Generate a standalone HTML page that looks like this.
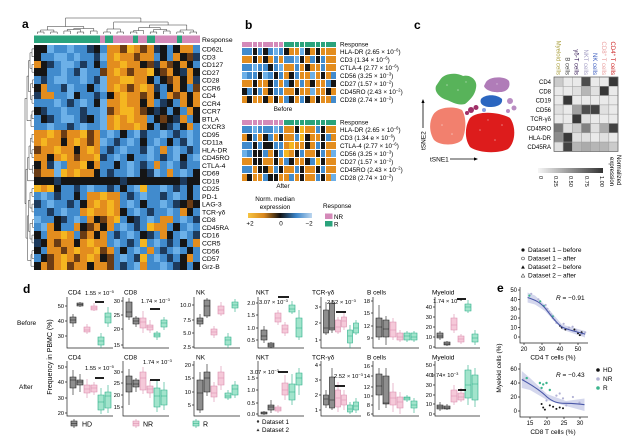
<!DOCTYPE html>
<html><head><meta charset="utf-8">
<style>
html,body{margin:0;padding:0;background:#fff;}
body{width:640px;height:445px;position:relative;overflow:hidden;font-family:"Liberation Sans",Arial,sans-serif;}
svg{position:absolute;left:0;top:0;}
.gr{position:absolute;display:grid;}
#ha{left:34px;top:45px;width:166px;height:225px;grid-template-columns:repeat(25,1fr);grid-template-rows:repeat(29,1fr);}
.hb{left:242px;width:94px;height:61px;grid-template-columns:repeat(18,1fr);grid-template-rows:5px repeat(7,1fr);gap:0.6px;background:#fff;}
#hb1{top:42px;} #hb2{top:120px;}
y{background:#f5b620} o{background:#e38d1e} d{background:#6b3c14} k{background:#151515} n{background:#1d3a5c} c{background:#418bcd} l{background:#6cb0e8} m{background:#d48ab9} e{background:#2aa37c}
</style></head><body>
<svg width="640" height="445" viewBox="0 0 640 445" font-family="Liberation Sans, Arial, sans-serif" font-size="6.5">
<defs>
<linearGradient id="gb" x1="0" x2="1" y1="0" y2="0"><stop offset="0" stop-color="#f6c441"/><stop offset=".25" stop-color="#d9861c"/><stop offset=".5" stop-color="#111"/><stop offset=".75" stop-color="#3a84c8"/><stop offset="1" stop-color="#bcd6ef"/></linearGradient>
<linearGradient id="gc" x1="0" x2="1" y1="0" y2="0"><stop offset="0" stop-color="#f6f6f6"/><stop offset="1" stop-color="#333"/></linearGradient>
</defs>
<style>
.dd{fill:none;stroke:#333;stroke-width:.5}
.h{fill:#8e8e8e;stroke:#1a1a1a;stroke-width:.6}
.r{fill:#f5c9d9;stroke:#d98aab;stroke-width:.6}
.g{fill:#a2e4cc;stroke:#27ad86;stroke-width:.6}
.ax{fill:none;stroke:#222;stroke-width:.7}
.pb{stroke:#000;stroke-width:1.8}
.lb{font-weight:bold;font-size:12px}
</style>

<text class="lb" x="22" y="28">a</text>
<text class="lb" x="245" y="29">b</text>
<text class="lb" x="414" y="29">c</text>
<text class="lb" x="23" y="293">d</text>
<text class="lb" x="497" y="292">e</text>

<path class="dd" d="M37.3 34V32H44V34M50.6 34V32H57.2V34M63.9 34V31H70.5V34M77.2 34V32H83.8V34M90.4 34V31H97.1V34M40.6 32V30H53.9V32M67.2 31V29.5H80.5V32M73.8 29.5V28.5H93.8V31M47.3 30V26.5H83.8V28.5M103.7 34V32H110.4V34M117 34V32H123.6V34M107 32V29H120.3V32M130.3 34V32H136.9V34M133.6 32V30.5H143.6V34M150.2 34V32H156.8V34M163.5 34V31H170.1V34M153.5 32V29.5H166.8V31M176.8 34V32H183.4V34M190 34V32H196.7V34M180.1 32V30H193.4V32M138.6 30.5V27.5H160.2V29.5M149.4 27.5V25H186.8V30M113.7 29V22H168.1V25M65.5 26.5V18H140.9V22"/>
<path class="dd" d="M34 48.9H32V56.7H34M34 64.4H32V72.2H34M34 79.9H32.5V87.7H34M34 95.5H32V103.2H34M34 111H32V118.7H34M32 114.9H31V126.5H34M32 52.8H30V68.3H32M32.5 83.8H30.5V99.4H32M30 60.6H28.5V91.6H30.5M28.5 76.1H27V120.7H31M34 134.3H32V142H34M34 149.8H32V157.5H34M34 165.3H32.5V173.1H34M32 138.2H30.5V153.7H32M30.5 146H29V169.2H32.5M29 157.6H27.5V180.8H34M34 188.6H32V196.3H34M34 204.1H32V211.9H34M34 219.6H32.5V227.4H34M34 235.1H32V242.9H34M34 250.7H32V258.4H34M32 254.6H31V266.2H34M32 192.5H30V208H32M32.5 223.5H30V239H32M30 200.3H28.5V231.3H30M31 260.4H27.5V215.8H28.5M27.5 169.2H26V238.1H27.5M27 98.4H25V203.7H26"/>
<rect x="34" y="35.5" width="66" height="7.5" fill="#2aa37c"/>
<rect x="100" y="35.5" width="5" height="7.5" fill="#d48ab9"/>
<rect x="105" y="35.5" width="8" height="7.5" fill="#2aa37c"/>
<rect x="113" y="35.5" width="20" height="7.5" fill="#d48ab9"/>
<rect x="133" y="35.5" width="5" height="7.5" fill="#2aa37c"/>
<rect x="138" y="35.5" width="9" height="7.5" fill="#d48ab9"/>
<rect x="147" y="35.5" width="8" height="7.5" fill="#2aa37c"/>
<rect x="155" y="35.5" width="22" height="7.5" fill="#d48ab9"/>
<rect x="177" y="35.5" width="5" height="7.5" fill="#2aa37c"/>
<rect x="182" y="35.5" width="18" height="7.5" fill="#d48ab9"/>
<g font-size="6.8">
<text x="202" y="42">Response</text>
<text x="202" y="51.5">CD62L</text><text x="202" y="59.3">CD3</text><text x="202" y="67">CD127</text><text x="202" y="74.8">CD27</text><text x="202" y="82.5">CD28</text><text x="202" y="90.3">CCR6</text><text x="202" y="98.1">CD4</text><text x="202" y="105.8">CCR4</text><text x="202" y="113.6">CCR7</text><text x="202" y="121.3">BTLA</text><text x="202" y="129.1">CXCR3</text><text x="202" y="136.9">CD95</text><text x="202" y="144.6">CD11a</text><text x="202" y="152.4">HLA-DR</text><text x="202" y="160.1">CD45RO</text><text x="202" y="167.9">CTLA-4</text><text x="202" y="175.7">CD69</text><text x="202" y="183.4">CD19</text><text x="202" y="191.2">CD25</text><text x="202" y="198.9">PD-1</text><text x="202" y="206.7">LAG-3</text><text x="202" y="214.5">TCR-γδ</text><text x="202" y="222.2">CD8</text><text x="202" y="230">CD45RA</text><text x="202" y="237.7">CD16</text><text x="202" y="245.5">CCR5</text><text x="202" y="253.3">CD56</text><text x="202" y="261">CD57</text><text x="202" y="268.8">Grz-B</text>
</g>

<g font-size="6.3">
<text x="340" y="46.5">Response</text>
<text x="340" y="53.8">HLA-DR (2.65 × 10<tspan dy="-2.2" font-size="4.2">−6</tspan><tspan dy="2.2">)</tspan></text>
<text x="340" y="61.8">CD3 (1.34 × 10<tspan dy="-2.2" font-size="4.2">−6</tspan><tspan dy="2.2">)</tspan></text>
<text x="340" y="69.8">CTLA-4 (2.77 × 10<tspan dy="-2.2" font-size="4.2">−6</tspan><tspan dy="2.2">)</tspan></text>
<text x="340" y="77.8">CD56 (3.25 × 10<tspan dy="-2.2" font-size="4.2">−3</tspan><tspan dy="2.2">)</tspan></text>
<text x="340" y="85.8">CD27 (1.57 × 10<tspan dy="-2.2" font-size="4.2">−2</tspan><tspan dy="2.2">)</tspan></text>
<text x="340" y="93.8">CD45RO (2.43 × 10<tspan dy="-2.2" font-size="4.2">−2</tspan><tspan dy="2.2">)</tspan></text>
<text x="340" y="101.8">CD28 (2.74 × 10<tspan dy="-2.2" font-size="4.2">−2</tspan><tspan dy="2.2">)</tspan></text>
<text x="340" y="124.5">Response</text>
<text x="340" y="131.8">HLA-DR (2.65 × 10<tspan dy="-2.2" font-size="4.2">−6</tspan><tspan dy="2.2">)</tspan></text>
<text x="340" y="139.8">CD3 (1.34 e × 10<tspan dy="-2.2" font-size="4.2">−6</tspan><tspan dy="2.2">)</tspan></text>
<text x="340" y="147.8">CTLA-4 (2.77 × 10<tspan dy="-2.2" font-size="4.2">−6</tspan><tspan dy="2.2">)</tspan></text>
<text x="340" y="155.8">CD56 (3.25 × 10<tspan dy="-2.2" font-size="4.2">−3</tspan><tspan dy="2.2">)</tspan></text>
<text x="340" y="163.8">CD27 (1.57 × 10<tspan dy="-2.2" font-size="4.2">−2</tspan><tspan dy="2.2">)</tspan></text>
<text x="340" y="171.8">CD45RO (2.43 × 10<tspan dy="-2.2" font-size="4.2">−2</tspan><tspan dy="2.2">)</tspan></text>
<text x="340" y="179.8">CD28 (2.74 × 10<tspan dy="-2.2" font-size="4.2">−2</tspan><tspan dy="2.2">)</tspan></text>
<text x="283" y="111" text-anchor="middle">Before</text>
<text x="283" y="188" text-anchor="middle">After</text>
<text x="275" y="201" text-anchor="middle">Norm. median</text>
<text x="275" y="209" text-anchor="middle">expression</text>
<text x="250" y="225.5" text-anchor="middle">+2</text>
<text x="281" y="225.5" text-anchor="middle">0</text>
<text x="309" y="225.5" text-anchor="middle">−2</text>
<text x="323" y="208">Response</text>
<text x="334" y="219">NR</text>
<text x="334" y="226.5">R</text>
</g>
<rect x="248" y="213" width="64" height="5" fill="url(#gb)"/>
<rect x="325" y="213.5" width="7.5" height="5.5" fill="#d48ab9"/>
<rect x="325" y="221" width="7.5" height="5.5" fill="#2aa37c"/>

<path d="M440 80C445 72 458 73 463 76C470 74 478 80 476 88C475 95 470 100 465 104C458 106 452 102 447 100C440 98 434 92 436 86Z" fill="#58b35a"/>
<path d="M486 82C490 76 505 76 509 81C511 87 507 92 500 92C493 93 485 90 484 86Z" fill="#b07cb8"/>
<path d="M481 99C485 94 497 94 502 99C503 104 498 107 490 107C484 107 479 104 481 99Z" fill="#2b66c0"/>
<circle cx="510" cy="101" r="3" fill="#b98cc2"/><circle cx="514" cy="108" r="2.5" fill="#b98cc2"/><circle cx="508" cy="111" r="2" fill="#b98cc2"/>
<path d="M433 115C438 106 455 106 462 110C467 118 466 132 462 140C456 146 440 146 434 140C429 132 429 122 433 115Z" fill="#f2806e"/>
<path d="M470 118C478 110 500 112 510 118C516 126 516 142 508 149C498 154 478 153 470 147C464 138 465 126 470 118Z" fill="#dd1c1c"/>
<circle cx="471" cy="110" r="3" fill="#a03068"/><circle cx="476" cy="107.5" r="2.5" fill="#a03068"/><circle cx="467" cy="113" r="2" fill="#a03068"/><circle cx="484" cy="110" r="2" fill="#8aa0e0"/>
<g fill="#fff" opacity=".45"><circle cx="447" cy="85" r=".8"/><circle cx="458" cy="90" r=".8"/><circle cx="466" cy="82" r=".7"/><circle cx="442" cy="125" r=".8"/><circle cx="452" cy="134" r=".8"/><circle cx="480" cy="130" r=".8"/><circle cx="495" cy="140" r=".8"/><circle cx="502" cy="125" r=".8"/><circle cx="488" cy="120" r=".7"/><circle cx="497" cy="84" r=".7"/></g>
<path d="M423 128V102" stroke="#000" stroke-width=".8"/><path d="M423 99l-1.6 4h3.2z"/>
<path d="M450 159H475" stroke="#000" stroke-width=".8"/><path d="M478 159l-4-1.6v3.2z"/>
<text x="430" y="161.5" font-size="6.5">tSNE1</text>
<text transform="translate(425.5,150) rotate(-90)" font-size="6.5">tSNE2</text>

<g stroke="#a0a0a0" stroke-width=".5">
<rect x="554" y="77" width="9.14" height="9.3" fill="#cbcbcb"/><rect x="563.14" y="77" width="9.14" height="9.3" fill="#eaeaea"/><rect x="572.28" y="77" width="9.14" height="9.3" fill="#eaeaea"/><rect x="581.42" y="77" width="9.14" height="9.3" fill="#4d4d4d"/><rect x="590.56" y="77" width="9.14" height="9.3" fill="#eaeaea"/><rect x="599.7" y="77" width="9.14" height="9.3" fill="#eaeaea"/><rect x="608.84" y="77" width="9.14" height="9.3" fill="#383838"/>
<rect x="554" y="86.3" width="9.14" height="9.3" fill="#eaeaea"/><rect x="563.14" y="86.3" width="9.14" height="9.3" fill="#eaeaea"/><rect x="572.28" y="86.3" width="9.14" height="9.3" fill="#e0e0e0"/><rect x="581.42" y="86.3" width="9.14" height="9.3" fill="#b6b6b6"/><rect x="590.56" y="86.3" width="9.14" height="9.3" fill="#e0e0e0"/><rect x="599.7" y="86.3" width="9.14" height="9.3" fill="#383838"/><rect x="608.84" y="86.3" width="9.14" height="9.3" fill="#eaeaea"/>
<rect x="554" y="95.6" width="9.14" height="9.3" fill="#eaeaea"/><rect x="563.14" y="95.6" width="9.14" height="9.3" fill="#383838"/><rect x="572.28" y="95.6" width="9.14" height="9.3" fill="#eaeaea"/><rect x="581.42" y="95.6" width="9.14" height="9.3" fill="#eaeaea"/><rect x="590.56" y="95.6" width="9.14" height="9.3" fill="#eaeaea"/><rect x="599.7" y="95.6" width="9.14" height="9.3" fill="#eaeaea"/><rect x="608.84" y="95.6" width="9.14" height="9.3" fill="#eaeaea"/>
<rect x="554" y="104.9" width="9.14" height="9.3" fill="#e0e0e0"/><rect x="563.14" y="104.9" width="9.14" height="9.3" fill="#eaeaea"/><rect x="572.28" y="104.9" width="9.14" height="9.3" fill="#a1a1a1"/><rect x="581.42" y="104.9" width="9.14" height="9.3" fill="#4d4d4d"/><rect x="590.56" y="104.9" width="9.14" height="9.3" fill="#424242"/><rect x="599.7" y="104.9" width="9.14" height="9.3" fill="#e0e0e0"/><rect x="608.84" y="104.9" width="9.14" height="9.3" fill="#eaeaea"/>
<rect x="554" y="114.2" width="9.14" height="9.3" fill="#eaeaea"/><rect x="563.14" y="114.2" width="9.14" height="9.3" fill="#eaeaea"/><rect x="572.28" y="114.2" width="9.14" height="9.3" fill="#383838"/><rect x="581.42" y="114.2" width="9.14" height="9.3" fill="#e0e0e0"/><rect x="590.56" y="114.2" width="9.14" height="9.3" fill="#eaeaea"/><rect x="599.7" y="114.2" width="9.14" height="9.3" fill="#eaeaea"/><rect x="608.84" y="114.2" width="9.14" height="9.3" fill="#eaeaea"/>
<rect x="554" y="123.5" width="9.14" height="9.3" fill="#777"/><rect x="563.14" y="123.5" width="9.14" height="9.3" fill="#e0e0e0"/><rect x="572.28" y="123.5" width="9.14" height="9.3" fill="#cbcbcb"/><rect x="581.42" y="123.5" width="9.14" height="9.3" fill="#818181"/><rect x="590.56" y="123.5" width="9.14" height="9.3" fill="#e0e0e0"/><rect x="599.7" y="123.5" width="9.14" height="9.3" fill="#ababab"/><rect x="608.84" y="123.5" width="9.14" height="9.3" fill="#424242"/>
<rect x="554" y="132.8" width="9.14" height="9.3" fill="#8c8c8c"/><rect x="563.14" y="132.8" width="9.14" height="9.3" fill="#383838"/><rect x="572.28" y="132.8" width="9.14" height="9.3" fill="#e0e0e0"/><rect x="581.42" y="132.8" width="9.14" height="9.3" fill="#e0e0e0"/><rect x="590.56" y="132.8" width="9.14" height="9.3" fill="#eaeaea"/><rect x="599.7" y="132.8" width="9.14" height="9.3" fill="#e0e0e0"/><rect x="608.84" y="132.8" width="9.14" height="9.3" fill="#eaeaea"/>
<rect x="554" y="142.1" width="9.14" height="9.3" fill="#e0e0e0"/><rect x="563.14" y="142.1" width="9.14" height="9.3" fill="#424242"/><rect x="572.28" y="142.1" width="9.14" height="9.3" fill="#b6b6b6"/><rect x="581.42" y="142.1" width="9.14" height="9.3" fill="#ababab"/><rect x="590.56" y="142.1" width="9.14" height="9.3" fill="#b6b6b6"/><rect x="599.7" y="142.1" width="9.14" height="9.3" fill="#b6b6b6"/><rect x="608.84" y="142.1" width="9.14" height="9.3" fill="#cbcbcb"/>
</g>
<rect x="554" y="77" width="64" height="74.4" fill="none" stroke="#555" stroke-width=".6"/>
<g font-size="6" text-anchor="end">
<text x="551" y="84">CD4</text><text x="551" y="93.3">CD8</text><text x="551" y="102.6">CD19</text><text x="551" y="111.9">CD56</text><text x="551" y="121.2">TCR-γδ</text><text x="551" y="130.5">CD45RO</text><text x="551" y="139.8">HLA-DR</text><text x="551" y="149.1">CD45RA</text>
</g>
<g font-size="6" text-anchor="end">
<text transform="translate(556.4,75) rotate(90)" fill="#aea446">Myeloid cells</text>
<text transform="translate(565.5,75) rotate(90)" fill="#444">B cells</text>
<text transform="translate(574.6,75) rotate(90)" fill="#3a1f5a">γδ-T cells</text>
<text transform="translate(583.8,75) rotate(90)" fill="#a6a0c6">NKT cells</text>
<text transform="translate(592.9,75) rotate(90)" fill="#3f5fc0">NK cells</text>
<text transform="translate(602.1,75) rotate(90)" fill="#e9a0a0">CD8<tspan font-size="4.5" dy="-2">+</tspan><tspan dy="2"> T cells</tspan></text>
<text transform="translate(611.2,75) rotate(90)" fill="#cc1f1f">CD4<tspan font-size="4.5" dy="-2">+</tspan><tspan dy="2"> T cells</tspan></text>
</g>
<rect x="538" y="168" width="65" height="5" fill="url(#gc)"/>
<g font-size="5.6">
<text transform="translate(539,176) rotate(90)">0</text>
<text transform="translate(554,176) rotate(90)">0.25</text>
<text transform="translate(569,176) rotate(90)">0.50</text>
<text transform="translate(585,176) rotate(90)">0.75</text>
<text transform="translate(600,176) rotate(90)">1.00</text>
<text transform="translate(617,155) rotate(90)" font-size="6">Normalized</text>
<text transform="translate(610,157) rotate(90)" font-size="6">expression</text>
</g>

<g font-size="6.5">
<text x="17" y="325">Before</text>
<text x="19" y="389">After</text>
<text transform="translate(52,357) rotate(-90)" text-anchor="middle" font-size="7">Frequency in PBMC (%)</text>
<text x="68" y="294.5">CD4</text><text x="124" y="294.5">CD8</text><text x="196" y="294.5">NK</text><text x="256" y="294.5">NKT</text><text x="312" y="294.5">TCR-γδ</text><text x="367" y="294.5">B cells</text><text x="432" y="294.5">Myeloid</text>
<text x="68" y="359.5">CD4</text><text x="124" y="359.5">CD8</text><text x="196" y="359.5">NK</text><text x="256" y="359.5">NKT</text><text x="312" y="359.5">TCR-γδ</text><text x="367" y="359.5">B cells</text><text x="432" y="359.5">Myeloid</text>
</g>
<path class="ax" d="M67 297V348H113M123 297V348H169M194 297V348H240M258 297V348H304M321 297V348H361M373 297V348H419M435 297V348H480M67 361V416H113M123 361V416H169M194 361V416H240M258 361V416H304M321 361V416H361M373 361V416H419M435 361V416H480"/>
<path class="ax" d="M65 306h2M65 321h2M65 336h2M121 301h2M121 315h2M121 329h2M121 345h2M192 305h2M192 320h2M192 333h2M192 347h2M256 303h2M256 315h2M256 328h2M256 340h2M319 307h2M319 323h2M319 340h2M371 301h2M371 313h2M371 326h2M371 338h2M433 307h2M433 317h2M433 327h2M433 337h2M433 347h2M65 367h2M65 382h2M65 398h2M65 413h2M121 372h2M121 383h2M121 395h2M121 407h2M192 365h2M192 378h2M192 392h2M192 405h2M256 378h2M256 390h2M256 403h2M256 414h2M319 365h2M319 380h2M319 395h2M319 410h2M371 366h2M371 376h2M371 387h2M371 396h2M371 405h2M371 414h2M433 365h2M433 375h2M433 385h2M433 395h2M433 404h2M433 414h2"/>
<g font-size="5.6" text-anchor="end">
<text x="64" y="308">50</text><text x="64" y="323">40</text><text x="64" y="338">30</text>
<text x="120" y="303">30</text><text x="120" y="317">25</text><text x="120" y="331">20</text><text x="120" y="347">15</text>
<text x="191" y="307">10.0</text><text x="191" y="322">7.5</text><text x="191" y="335">5.0</text><text x="191" y="349">2.5</text>
<text x="255" y="305">2.0</text><text x="255" y="317">1.5</text><text x="255" y="330">1.0</text><text x="255" y="342">0.5</text>
<text x="318" y="309">3</text><text x="318" y="325">2</text><text x="318" y="342">1</text>
<text x="370" y="303">18</text><text x="370" y="315">15</text><text x="370" y="328">12</text><text x="370" y="340">9</text>
<text x="432" y="309">40</text><text x="432" y="319">30</text><text x="432" y="329">20</text><text x="432" y="339">10</text><text x="432" y="349">0</text>
<text x="64" y="369">50</text><text x="64" y="384">40</text><text x="64" y="400">30</text><text x="64" y="415">20</text>
<text x="120" y="374">30</text><text x="120" y="385">25</text><text x="120" y="397">20</text><text x="120" y="409">15</text>
<text x="191" y="367">20</text><text x="191" y="380">15</text><text x="191" y="394">10</text><text x="191" y="407">5</text>
<text x="255" y="380">1.5</text><text x="255" y="392">1.0</text><text x="255" y="405">0.5</text><text x="255" y="416">0.0</text>
<text x="318" y="367">4</text><text x="318" y="382">3</text><text x="318" y="397">2</text><text x="318" y="412">1</text>
<text x="370" y="368">16</text><text x="370" y="378">14</text><text x="370" y="389">12</text><text x="370" y="398">10</text><text x="370" y="407">8</text><text x="370" y="416">6</text>
<text x="432" y="367">50</text><text x="432" y="377">40</text><text x="432" y="387">30</text><text x="432" y="397">20</text><text x="432" y="406">10</text><text x="432" y="416">0</text>
</g>
<path class="h" d="M73 314V317M70 317h6v6h-6zM73 323V327M70 320h6M80 302V303M77 303h6v3h-6zM80 306V307M77 304.5h6"/>
<path class="r" d="M87 324V327M84 327h6v5h-6zM87 332V334M84 330h6M94 303V306M91 306h6v4h-6zM94 310V311M91 308h6"/>
<path class="g" d="M101 333V337M98 337h6v8h-6zM101 345V348M98 341h6M108 307V313M105 313h6v10h-6zM108 323V327M105 317h6"/>
<path class="h" d="M129 298V302M126 302h6v15h-6zM129 317V320M126 312h6M136 316V318M133 318h6v6h-6zM136 324V327M133 321h6"/>
<path class="r" d="M143 311V318M140 318h6v10h-6zM143 328V333M140 322h6M150 320V325M147 325h6v5h-6zM150 330V333M147 327h6"/>
<path class="g" d="M157 331V333M154 333h6v4h-6zM157 337V340M154 335h6M164 317V320M161 320h6v7h-6zM164 327V330M161 323h6"/>
<path class="h" d="M200 314V318M197 318h6v6h-6zM200 324V327M197 321h6M207 298V300M204 300h6v16h-6zM207 316V318M204 306h6"/>
<path class="r" d="M214 326V329M211 329h6v6h-6zM214 335V338M211 332h6M221 302V306M218 306h6v8h-6zM221 314V316M218 310h6"/>
<path class="g" d="M228 333V337M225 337h6v8h-6zM228 345V348M225 340h6M235 299V302M232 302h6v6h-6zM235 308V312M232 305h6"/>
<path class="h" d="M264 326V330M261 330h6v10h-6zM264 340V343M261 336h6M271 342V343M268 343h6v4h-6zM271 347V348M268 345h6"/>
<path class="r" d="M278 310V313M275 313h6v9h-6zM278 322V325M275 318h6M285 322V325M282 325h6v8h-6zM285 333V336M282 329h6"/>
<path class="g" d="M292 301V305M289 305h6v7h-6zM292 312V314M289 309h6M299 310V318M296 318h6v19h-6zM299 337V340M296 328h6"/>
<path class="h" d="M326 302V310M323.5 310h5v23h-5zM326 333V335M323.5 328h5M332 300V303M329.5 303h5v27h-5zM332 330V333M329.5 328h5"/>
<path class="r" d="M338 317V320M335.5 320h5v12h-5zM338 332V334M335.5 327h5M344 312V317M341.5 317h5v10h-5zM344 327V330M341.5 321h5"/>
<path class="g" d="M350 325V330M347.5 330h5v13h-5zM350 343V348M347.5 336h5M356 320V323M353.5 323h5v10h-5zM356 333V335M353.5 328h5"/>
<path class="h" d="M379 305V318M376 318h6v19h-6zM379 337V340M376 327h6M386 316V320M383 320h6v17h-6zM386 337V345M383 329h6"/>
<path class="r" d="M393 318V322M390 322h6v15h-6zM393 337V340M390 330h6M400 330V333M397 333h6v7h-6zM400 340V342M397 337h6"/>
<path class="g" d="M407 331V333M404 333h6v7h-6zM407 340V342M404 336h6M414 331V333M411 333h6v7h-6zM414 340V342M411 337h6"/>
<path class="h" d="M440 331V333M437 333h6v5h-6zM440 338V340M437 336h6M447 341V342M444 342h6v3h-6zM447 345V346M444 344h6"/>
<path class="r" d="M454 314V318M451 318h6v12h-6zM454 330V333M451 325h6M461 334V336M458 336h6v6h-6zM461 342V344M458 339h6"/>
<path class="g" d="M468 300V304M465 304h6v7h-6zM468 311V313M465 307h6M475 330V334M472 334h6v8h-6zM475 342V345M472 338h6"/>
<path class="h" d="M73 370V377M70 377h6v11h-6zM73 388V395M70 380h6M80 374V380M77 380h6v5h-6zM80 385V392M77 382h6"/>
<path class="r" d="M87 379V385M84 385h6v8h-6zM87 393V398M84 389h6M94 382V385M91 385h6v7h-6zM94 392V395M91 388h6"/>
<path class="g" d="M101 388V395M98 395h6v15h-6zM101 410V414M98 402h6M108 385V392M105 392h6v16h-6zM108 408V413M105 396h6"/>
<path class="h" d="M129 369V376M126 376h6v16h-6zM129 392V405M126 384h6M136 378V380M133 380h6v7h-6zM136 387V392M133 384h6"/>
<path class="r" d="M143 367V372M140 372h6v18h-6zM143 390V394M140 378h6M150 380V386M147 386h6v7h-6zM150 393V398M147 389h6"/>
<path class="g" d="M157 380V388M154 388h6v19h-6zM157 407V412M154 396h6M164 382V390M161 390h6v15h-6zM164 405V410M161 396h6"/>
<path class="h" d="M200 372V380M197 380h6v30h-6zM200 410V413M197 393h6M207 364V372M204 372h6v20h-6zM207 392V396M204 378h6"/>
<path class="r" d="M214 382V386M211 386h6v11h-6zM214 397V402M211 393h6M221 366V372M218 372h6v13h-6zM221 385V390M218 378h6"/>
<path class="g" d="M228 390V393M225 393h6v5h-6zM228 398V400M225 396h6M235 381V385M232 385h6v10h-6zM235 395V398M232 389h6"/>
<path class="h" d="M264 411V412M261 412h6v2h-6zM264 414V415M261 413h6M271 400V405M268 405h6v5h-6zM271 410V413M268 407h6"/>
<path class="r" d="M278 405V407M275 407h6v4h-6zM278 411V413M275 409h6M285 375V383M282 383h6v12h-6zM285 395V400M282 390h6"/>
<path class="g" d="M292 374V384M289 384h6v16h-6zM292 400V405M289 392h6M299 368V373M296 373h6v12h-6zM299 385V395M296 378h6"/>
<path class="h" d="M326 390V395M323.5 395h5v10h-5zM326 405V408M323.5 399h5M332 368V377M329.5 377h5v31h-5zM332 408V410M329.5 400h5"/>
<path class="r" d="M338 382V390M335.5 390h5v17h-5zM338 407V412M335.5 398h5M344 390V395M341.5 395h5v10h-5zM344 405V410M341.5 400h5"/>
<path class="g" d="M350 402V405M347.5 405h5v7h-5zM350 412V414M347.5 409h5M356 398V402M353.5 402h5v8h-5zM356 410V413M353.5 406h5"/>
<path class="h" d="M379 368V374M376 374h6v21h-6zM379 395V410M376 386h6M386 368V376M383 376h6v28h-6zM386 404V408M383 403h6"/>
<path class="r" d="M393 383V392M390 392h6v13h-6zM393 405V412M390 398h6M400 392V397M397 397h6v11h-6zM400 408V414M397 402h6"/>
<path class="g" d="M407 395V397M404 397h6v3h-6zM407 400V402M404 398h6M414 398V401M411 401h6v7h-6zM414 408V413M411 405h6"/>
<path class="h" d="M440 402V405M437 405h6v4h-6zM440 409V411M437 407h6M447 404V406M444 406h6v3h-6zM447 409V410M444 408h6"/>
<path class="r" d="M454 385V390M451 390h6v12h-6zM454 402V405M451 396h6M461 388V393M458 393h6v7h-6zM461 400V402M458 397h6"/>
<path class="g" d="M468 365V370M465 370h6v28h-6zM468 398V405M465 385h6M475 368V375M472 375h6v25h-6zM475 400V407M472 384h6"/>
<g font-size="5.8">
<text x="85" y="295">1.55 × 10<tspan dy="-2.2" font-size="4">−5</tspan></text>
<text x="141" y="303">1.74 × 10<tspan dy="-2.2" font-size="4">−3</tspan></text>
<text x="259" y="304">3.07 × 10<tspan dy="-2.2" font-size="4">−3</tspan></text>
<text x="327" y="304">2.52 × 10<tspan dy="-2.2" font-size="4">−3</tspan></text>
<text x="433" y="303">1.74 × 10<tspan dy="-2.2" font-size="4">−3</tspan></text>
<text x="85" y="370">1.55 × 10<tspan dy="-2.2" font-size="4">−5</tspan></text>
<text x="143" y="364">1.74 × 10<tspan dy="-2.2" font-size="4">−3</tspan></text>
<text x="250" y="374">3.07 × 10<tspan dy="-2.2" font-size="4">−3</tspan></text>
<text x="334" y="378">2.52 × 10<tspan dy="-2.2" font-size="4">−3</tspan></text>
<text x="431" y="377">1.74× 10<tspan dy="-2.2" font-size="4">−3</tspan></text>
</g>
<path class="pb" d="M95 302H104M150 309H160M278 297H289M336 312H346M457 299H466M95 378H104M150 380H160M278 372H288M335 386H345M458 390H466"/>
<path class="h" d="M74 419V421M71 421h6v5h-6zM74 426V428M71 423.5h6"/>
<path class="r" d="M136 419V421M133 421h6v5h-6zM136 426V428M133 423.5h6"/>
<path class="g" d="M196 419V421M193 421h6v5h-6zM196 426V428M193 423.5h6"/>
<g font-size="7"><text x="82" y="426.5">HD</text><text x="143" y="426.5">NR</text><text x="203" y="426.5">R</text></g>
<circle cx="258" cy="421.5" r="1.2" fill="#333"/><path d="M258 428.5l1.5 2.6h-3z" fill="#333"/>
<g font-size="6.3"><text x="262" y="423.8">Dataset 1</text><text x="262" y="432">Dataset 2</text></g>

<circle cx="523" cy="250" r="1.6" fill="#111"/>
<circle cx="523" cy="258.5" r="1.5" fill="none" stroke="#111" stroke-width=".5"/>
<path d="M523 265.3l1.9 3.3h-3.8z" fill="#111"/>
<path d="M523 273.8l1.9 3.3h-3.8z" fill="none" stroke="#111" stroke-width=".5"/>
<g font-size="6.5">
<text x="528" y="252.2">Dataset 1 – before</text>
<text x="528" y="260.7">Dataset 1 – after</text>
<text x="528" y="269.2">Dataset 2 – before</text>
<text x="528" y="277.7">Dataset 2 – after</text>
</g>
<path d="M527.6 292.5L535 295.5L545 305L562 324.5L585 331L585 337.5L562 329.5L545 311L535 304.5L527.6 302.5Z" fill="#cdd0ea" opacity=".85"/>
<path d="M521.8 371L530 378L547 394L566 401L584.5 398.5L584.5 411L566 406L547 400L530 390L521.8 388Z" fill="#cdd0ea" opacity=".85"/>
<g fill="#b3b3d6">
<circle cx="531.2" cy="293.8" r="1.1"/><circle cx="538.4" cy="299.4" r="1.1"/><circle cx="547.4" cy="308.8" r="1.1"/><circle cx="549.2" cy="311.6" r="1.1"/><circle cx="552.8" cy="318.2" r="1.1"/><circle cx="551" cy="314.4" r="1.1"/><circle cx="556.4" cy="322.9" r="1.1"/><circle cx="563.6" cy="323.8" r="1.1"/><circle cx="569" cy="327.6" r="1.1"/><circle cx="572.6" cy="326.7" r="1.1"/><circle cx="576.2" cy="330.4" r="1.1"/><circle cx="581.6" cy="334.2" r="1.1"/><circle cx="585.2" cy="332.3" r="1.1"/><circle cx="554.6" cy="320" r="1.1"/><circle cx="545.6" cy="305" r="1.1"/>
<circle cx="556.4" cy="395.6" r="1.1"/><circle cx="563" cy="398.4" r="1.1"/><circle cx="572.9" cy="397" r="1.1"/><circle cx="546.5" cy="400.5" r="1.1"/><circle cx="566.3" cy="405.4" r="1.1"/><circle cx="559.7" cy="393.5" r="1.1"/><circle cx="579.5" cy="402.6" r="1.1"/><circle cx="523.4" cy="379.5" r="1.1"/>
</g>
<g fill="#3cb58e">
<circle cx="529.4" cy="295.6" r="1.1"/><circle cx="540.2" cy="301.3" r="1.1"/><circle cx="543.8" cy="306" r="1.1"/><circle cx="552.8" cy="316.3" r="1.1"/>
<circle cx="539.9" cy="383" r="1.2"/><circle cx="543.2" cy="384.4" r="1.2"/><circle cx="546.5" cy="383" r="1.2"/><circle cx="541.6" cy="387.9" r="1.2"/><circle cx="549.8" cy="390" r="1.2"/><circle cx="526.7" cy="378.1" r="1.2"/>
</g>
<g fill="#111">
<circle cx="560" cy="325.7" r="1"/><circle cx="561.8" cy="327.6" r="1"/><circle cx="565.4" cy="329.5" r="1"/><circle cx="578" cy="333.2" r="1"/><circle cx="579.8" cy="335.1" r="1"/><circle cx="581.6" cy="332.3" r="1"/><circle cx="574.4" cy="329.5" r="1"/>
<circle cx="541.6" cy="404" r="1"/><circle cx="543.2" cy="407.5" r="1"/><circle cx="544.9" cy="409.6" r="1"/><circle cx="549.8" cy="405.4" r="1"/><circle cx="556.4" cy="408.9" r="1"/><circle cx="559.7" cy="407.5" r="1"/><circle cx="563" cy="408.2" r="1"/><circle cx="553.1" cy="406.8" r="1"/>
</g>
<path d="M527.6 297.5C535 300 540 302 545 308C550 314 555 322 562 327C568 330 578 332 585.2 334.2" fill="none" stroke="#4a58a8" stroke-width="1.1"/>
<path d="M521.8 379.5C530 384 540 390 547 397C553 402 558 403.5 566 403.3C575 403.5 580 404 584.5 404.7" fill="none" stroke="#4a58a8" stroke-width="1.1"/>
<path class="ax" d="M520 287V343H588M520 363V417H588"/>
<path class="ax" d="M518 290h2M518 299.5h2M518 309h2M518 318h2M518 327.5h2M518 337h2M524 343v2M542 343v2M560 343v2M578 343v2M518 369h2M518 383h2M518 397h2M518 411h2M530 417v2M547 417v2M564 417v2M580 417v2"/>
<g font-size="6" text-anchor="end">
<text x="517" y="292">50</text><text x="517" y="301.5">40</text><text x="517" y="311">30</text><text x="517" y="320">20</text><text x="517" y="329.5">10</text><text x="517" y="339">0</text>
<text x="517" y="371">60</text><text x="517" y="385">40</text><text x="517" y="399">20</text><text x="517" y="413">0</text>
</g>
<g font-size="6" text-anchor="middle">
<text x="524" y="351">20</text><text x="542" y="351">30</text><text x="560" y="351">40</text><text x="578" y="351">50</text>
<text x="530" y="425">15</text><text x="547" y="425">20</text><text x="564" y="425">25</text><text x="580" y="425">30</text>
<text x="553" y="359.5" font-size="6.5">CD4 T cells (%)</text>
<text x="553" y="434" font-size="6.5">CD8 T cells (%)</text>
<text transform="translate(501,368) rotate(-90)" font-size="6.5">Myeloid cells (%)</text>
</g>
<g font-size="6.5">
<text x="556" y="300"><tspan font-style="italic">R</tspan> = −0.91</text>
<text x="556" y="377"><tspan font-style="italic">R</tspan> = −0.43</text>
<text x="603" y="372">HD</text><text x="603" y="381">NR</text><text x="603" y="390">R</text>
</g>
<circle cx="598" cy="370" r="1.8" fill="#111"/><circle cx="598" cy="379" r="1.8" fill="#b5b5d5"/><circle cx="598" cy="388" r="1.8" fill="#3cb58e"/>
</svg>

<div id="ha" class="gr">
<k></k><k></k><l></l><c></c><c></c><l></l><c></c><c></c><n></n><k></k><c></c><o></o><o></o><d></d><y></y><o></o><d></d><o></o><n></n><k></k><c></c><k></k><o></o><o></o><c></c>
<k></k><c></c><c></c><l></l><l></l><c></c><l></l><c></c><c></c><n></n><l></l><o></o><y></y><o></o><o></o><d></d><o></o><o></o><c></c><k></k><c></c><o></o><k></k><d></d><n></n>
<o></o><k></k><n></n><c></c><l></l><l></l><c></c><n></n><c></c><k></k><c></c><o></o><o></o><y></y><o></o><o></o><k></k><d></d><n></n><o></o><d></d><k></k><o></o><k></k><c></c>
<k></k><k></k><c></c><c></c><l></l><c></c><n></n><l></l><c></c><c></c><d></d><o></o><y></y><o></o><d></d><o></o><o></o><y></y><k></k><d></d><o></o><k></k><n></n><o></o><k></k>
<c></c><n></n><c></c><l></l><l></l><c></c><c></c><l></l><c></c><n></n><l></l><o></o><o></o><y></y><y></y><o></o><o></o><k></k><c></c><k></k><d></d><o></o><k></k><o></o><n></n>
<k></k><o></o><c></c><c></c><n></n><l></l><c></c><c></c><k></k><c></c><l></l><o></o><y></y><o></o><d></d><o></o><y></y><o></o><n></n><c></c><k></k><o></o><k></k><c></c><d></d>
<n></n><o></o><o></o><c></c><c></c><l></l><k></k><c></c><c></c><n></n><c></c><k></k><o></o><y></y><o></o><o></o><d></d><o></o><k></k><c></c><o></o><d></d><o></o><k></k><o></o>
<c></c><c></c><c></c><l></l><c></c><n></n><c></c><l></l><c></c><k></k><l></l><o></o><o></o><y></y><o></o><o></o><k></k><o></o><c></c><n></n><k></k><c></c><o></o><k></k><o></o>
<k></k><n></n><c></c><c></c><l></l><c></c><c></c><n></n><c></c><c></c><l></l><d></d><o></o><y></y><y></y><o></o><d></d><k></k><n></n><k></k><c></c><k></k><c></c><o></o><k></k>
<c></c><k></k><n></n><c></c><l></l><l></l><c></c><n></n><k></k><c></c><l></l><o></o><y></y><o></o><y></y><o></o><o></o><c></c><k></k><d></d><k></k><n></n><o></o><c></c><k></k>
<c></c><c></c><l></l><c></c><c></c><n></n><c></c><l></l><c></c><c></c><l></l><o></o><y></y><o></o><o></o><y></y><o></o><k></k><c></c><k></k><n></n><c></c><k></k><o></o><c></c>
<o></o><o></o><y></y><o></o><d></d><o></o><o></o><y></y><d></d><o></o><c></c><l></l><c></c><k></k><c></c><l></l><n></n><c></c><c></c><l></l><c></c><n></n><c></c><l></l><c></c>
<o></o><y></y><o></o><o></o><k></k><o></o><y></y><o></o><d></d><o></o><l></l><c></c><n></n><c></c><l></l><c></c><k></k><c></c><l></l><c></c><k></k><c></c><n></n><l></l><c></c>
<d></d><o></o><o></o><y></y><o></o><o></o><k></k><o></o><y></y><o></o><c></c><n></n><c></c><l></l><c></c><c></c><n></n><l></l><c></c><o></o><c></c><l></l><c></c><n></n><c></c>
<o></o><o></o><k></k><o></o><y></y><o></o><d></d><o></o><o></o><y></y><n></n><c></c><l></l><c></c><k></k><c></c><c></c><l></l><c></c><n></n><c></c><l></l><k></k><c></c><l></l>
<k></k><o></o><n></n><l></l><c></c><o></o><o></o><y></y><k></k><o></o><c></c><c></c><k></k><c></c><l></l><c></c><n></n><c></c><o></o><c></c><l></l><c></c><n></n><c></c><c></c>
<d></d><o></o><o></o><l></l><y></y><o></o><y></y><o></o><o></o><k></k><c></c><n></n><c></c><c></c><l></l><c></c><k></k><n></n><l></l><c></c><o></o><c></c><l></l><c></c><k></k>
<k></k><k></k><k></k><n></n><k></k><k></k><k></k><k></k><k></k><k></k><k></k><k></k><k></k><n></n><k></k><k></k><k></k><k></k><k></k><k></k><k></k><k></k><n></n><k></k><k></k>
<y></y><o></o><y></y><k></k><c></c><c></c><n></n><c></c><l></l><c></c><c></c><n></n><c></c><k></k><c></c><l></l><y></y><c></c><c></c><l></l><c></c><n></n><c></c><k></k><c></c>
<c></c><l></l><c></c><n></n><c></c><c></c><k></k><c></c><o></o><o></o><y></y><o></o><o></o><c></c><n></n><c></c><l></l><c></c><c></c><n></n><c></c><l></l><c></c><k></k><c></c>
<n></n><c></c><l></l><c></c><c></c><n></n><c></c><k></k><o></o><y></y><o></o><y></y><o></o><c></c><l></l><c></c><k></k><c></c><c></c><l></l><c></c><n></n><k></k><d></d><k></k>
<c></c><c></c><n></n><c></c><l></l><c></c><c></c><o></o><y></y><o></o><o></o><y></y><o></o><k></k><c></c><l></l><c></c><n></n><c></c><c></c><l></l><c></c><o></o><k></k><c></c>
<l></l><c></c><c></c><k></k><n></n><c></c><l></l><c></c><o></o><k></k><d></d><o></o><y></y><c></c><k></k><n></n><c></c><l></l><c></c><o></o><o></o><c></c><l></l><c></c><n></n>
<c></c><l></l><o></o><k></k><c></c><c></c><o></o><k></k><d></d><o></o><k></k><o></o><c></c><l></l><c></c><n></n><c></c><y></y><o></o><o></o><c></c><k></k><c></c><l></l><c></c>
<k></k><c></c><o></o><o></o><y></y><o></o><c></c><d></d><o></o><k></k><o></o><c></c><n></n><c></c><l></l><c></c><k></k><n></n><c></c><o></o><k></k><c></c><l></l><c></c><n></n>
<n></n><k></k><o></o><d></d><o></o><o></o><k></k><o></o><y></y><o></o><o></o><c></c><l></l><c></c><n></n><c></c><y></y><c></c><l></l><c></c><n></n><c></c><k></k><c></c><o></o>
<k></k><c></c><o></o><o></o><d></d><o></o><y></y><o></o><o></o><y></y><d></d><o></o><c></c><k></k><c></c><l></l><c></c><o></o><c></c><n></n><c></c><l></l><c></c><k></k><c></c>
<c></c><k></k><d></d><o></o><y></y><o></o><d></d><o></o><y></y><o></o><k></k><d></d><c></c><l></l><c></c><n></n><y></y><c></c><l></l><c></c><n></n><c></c><k></k><o></o><c></c>
<k></k><o></o><d></d><o></o><y></y><d></d><o></o><o></o><k></k><o></o><o></o><d></d><c></c><n></n><c></c><l></l><o></o><c></c><c></c><l></l><c></c><n></n><k></k><c></c><k></k>
</div>

<div id="hb1" class="gr hb">
<m></m><m></m><m></m><m></m><m></m><m></m><m></m><m></m><e></e><e></e><e></e><e></e><e></e><e></e><e></e><e></e><e></e><e></e>
<c></c><c></c><k></k><c></c><k></k><c></c><l></l><c></c><k></k><o></o><o></o><l></l><k></k><o></o><k></k><o></o><o></o><o></o>
<o></o><o></o><k></k><o></o><k></k><o></o><c></c><o></o><c></c><c></c><l></l><k></k><o></o><c></c><k></k><c></c><o></o><o></o>
<c></c><c></c><l></l><c></c><c></c><k></k><c></c><l></l><o></o><o></o><c></c><o></o><k></k><o></o><o></o><c></c><o></o><o></o>
<l></l><c></c><c></c><k></k><l></l><c></c><k></k><c></c><o></o><k></k><c></c><o></o><o></o><l></l><o></o><k></k><o></o><c></c>
<o></o><o></o><k></k><o></o><o></o><k></k><c></c><o></o><c></c><k></k><o></o><c></c><o></o><k></k><o></o><o></o><c></c><k></k>
<k></k><c></c><k></k><c></c><o></o><k></k><c></c><c></c><o></o><o></o><k></k><o></o><o></o><l></l><o></o><o></o><k></k><o></o>
<o></o><k></k><o></o><o></o><k></k><o></o><k></k><o></o><c></c><k></k><o></o><c></c><k></k><o></o><k></k><o></o><o></o><c></c>
</div>

<div id="hb2" class="gr hb">
<m></m><m></m><m></m><m></m><m></m><m></m><m></m><m></m><e></e><e></e><e></e><e></e><e></e><e></e><e></e><e></e><e></e><e></e>
<c></c><c></c><l></l><c></c><c></c><c></c><l></l><c></c><o></o><o></o><k></k><y></y><o></o><o></o><c></c><k></k><o></o><o></o>
<o></o><k></k><c></c><o></o><k></k><c></c><o></o><k></k><o></o><o></o><c></c><y></y><k></k><o></o><o></o><k></k><c></c><o></o>
<c></c><c></c><k></k><c></c><k></k><k></k><c></c><c></c><o></o><y></y><o></o><o></o><k></k><o></o><c></c><k></k><o></o><o></o>
<l></l><c></c><k></k><k></k><c></c><o></o><k></k><c></c><y></y><o></o><k></k><c></c><o></o><o></o><k></k><c></c><o></o><l></l>
<o></o><o></o><k></k><k></k><o></o><o></o><k></k><o></o><c></c><k></k><o></o><o></o><k></k><c></c><y></y><k></k><o></o><o></o>
<c></c><c></c><o></o><k></k><k></k><o></o><c></c><k></k><o></o><o></o><c></c><k></k><o></o><o></o><k></k><c></c><o></o><o></o>
<o></o><k></k><o></o><o></o><c></c><k></k><k></k><o></o><o></o><c></c><o></o><k></k><o></o><o></o><c></c><k></k><o></o><l></l>
</div>
</body></html>
